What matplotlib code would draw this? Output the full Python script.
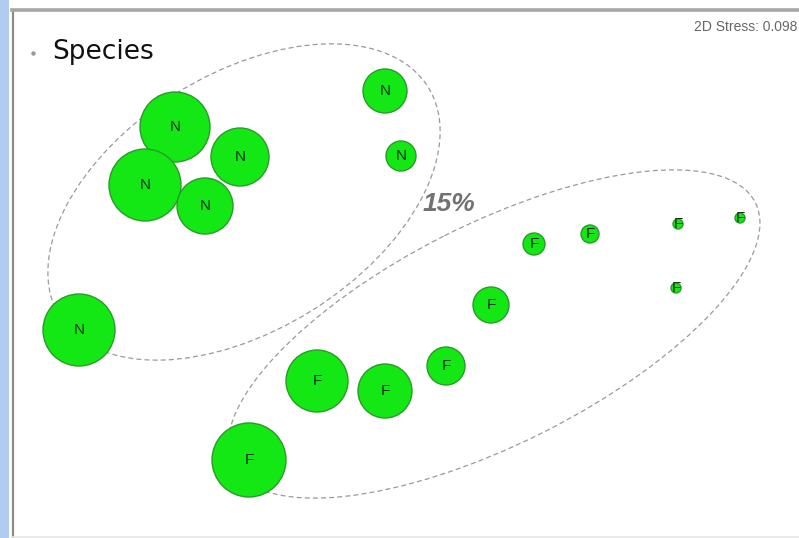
import matplotlib
matplotlib.use("Agg")
import matplotlib.pyplot as plt
from matplotlib.patches import Circle, Ellipse, Rectangle
from matplotlib.lines import Line2D

# MDS ordination (screen-like coordinates: x to the right, y downward)
groups = ["N", "N", "N", "N", "N", "N", "N",
          "F", "F", "F", "F", "F", "F", "F", "F", "F", "F"]
x_pos = [175, 145, 240, 205, 385, 401, 79,
         249, 317, 385, 446, 491, 534, 590, 678, 740, 676]
y_pos = [127, 185, 157, 206, 91, 156, 330,
         460, 381, 391, 366, 305, 244, 234, 224, 218, 288]
# bubble radius (abundance)
radius = [35, 36, 29, 28, 22, 15, 36,
          37, 31, 27, 19, 18, 11, 9, 5, 5, 5]

# similarity contours: centre x, centre y, width, height, angle
ell_cx = [244, 494]
ell_cy = [202, 334]
ell_w = [434, 585]
ell_h = [256, 220]
ell_ang = [-32, -26.7]

similarity_label = "15%"
stress_label = "2D Stress: 0.098"
legend_title = "Species"

fig = plt.figure(figsize=(7.99, 5.38), dpi=100)
fig.patch.set_facecolor("white")
ax = fig.add_axes([0, 0, 1, 1])
ax.set_xlim(0, 799)
ax.set_ylim(538, 0)
ax.axis("off")

# window frame
ax.add_patch(Rectangle((0, 0), 9, 538, facecolor="#b2cbf1", edgecolor="none", zorder=0))
ax.add_line(Line2D([12.5, 12.5], [10, 538], color="#8c8c8c", lw=1.6, zorder=1))
ax.add_line(Line2D([12, 799], [10, 10], color="#a6a6a6", lw=2.6, zorder=1))
ax.add_line(Line2D([12, 799], [536.5, 536.5], color="#e6e6e6", lw=1.2, zorder=1))

for cx, cy, w, h, a in zip(ell_cx, ell_cy, ell_w, ell_h, ell_ang):
    ax.add_patch(Ellipse((cx, cy), w, h, angle=a, fill=False, edgecolor="#9a9a9a",
                         lw=0.9, linestyle=(0, (4, 2.5)), zorder=2))

for g, x, y, r in zip(groups, x_pos, y_pos, radius):
    ax.add_patch(Circle((x, y), r, facecolor="#14e814", edgecolor="#2a9a2a",
                        lw=1.0, zorder=3))
    ax.text(x, y, g, ha="center", va="center", fontsize=11, color="#163016",
            family="Liberation Sans", zorder=4)

ax.text(423, 204, similarity_label, ha="left", va="center", fontsize=19,
        fontweight="bold", fontstyle="italic", color="#727272",
        family="Liberation Sans", zorder=4)

ax.text(797, 27, stress_label, ha="right", va="center", fontsize=10,
        color="#666666", family="Liberation Sans", zorder=4)

# legend box
ax.add_patch(Rectangle((33, 20), 177, 52, facecolor="white", edgecolor="none", zorder=5))
ax.plot([33], [53], marker="o", ms=2.2, color="#9a9a9a", zorder=6)
ax.text(52, 52, legend_title, ha="left", va="center", fontsize=19,
        color="#111111", family="DejaVu Sans", zorder=6)

fig.savefig("out.png", dpi=100, facecolor="white")
